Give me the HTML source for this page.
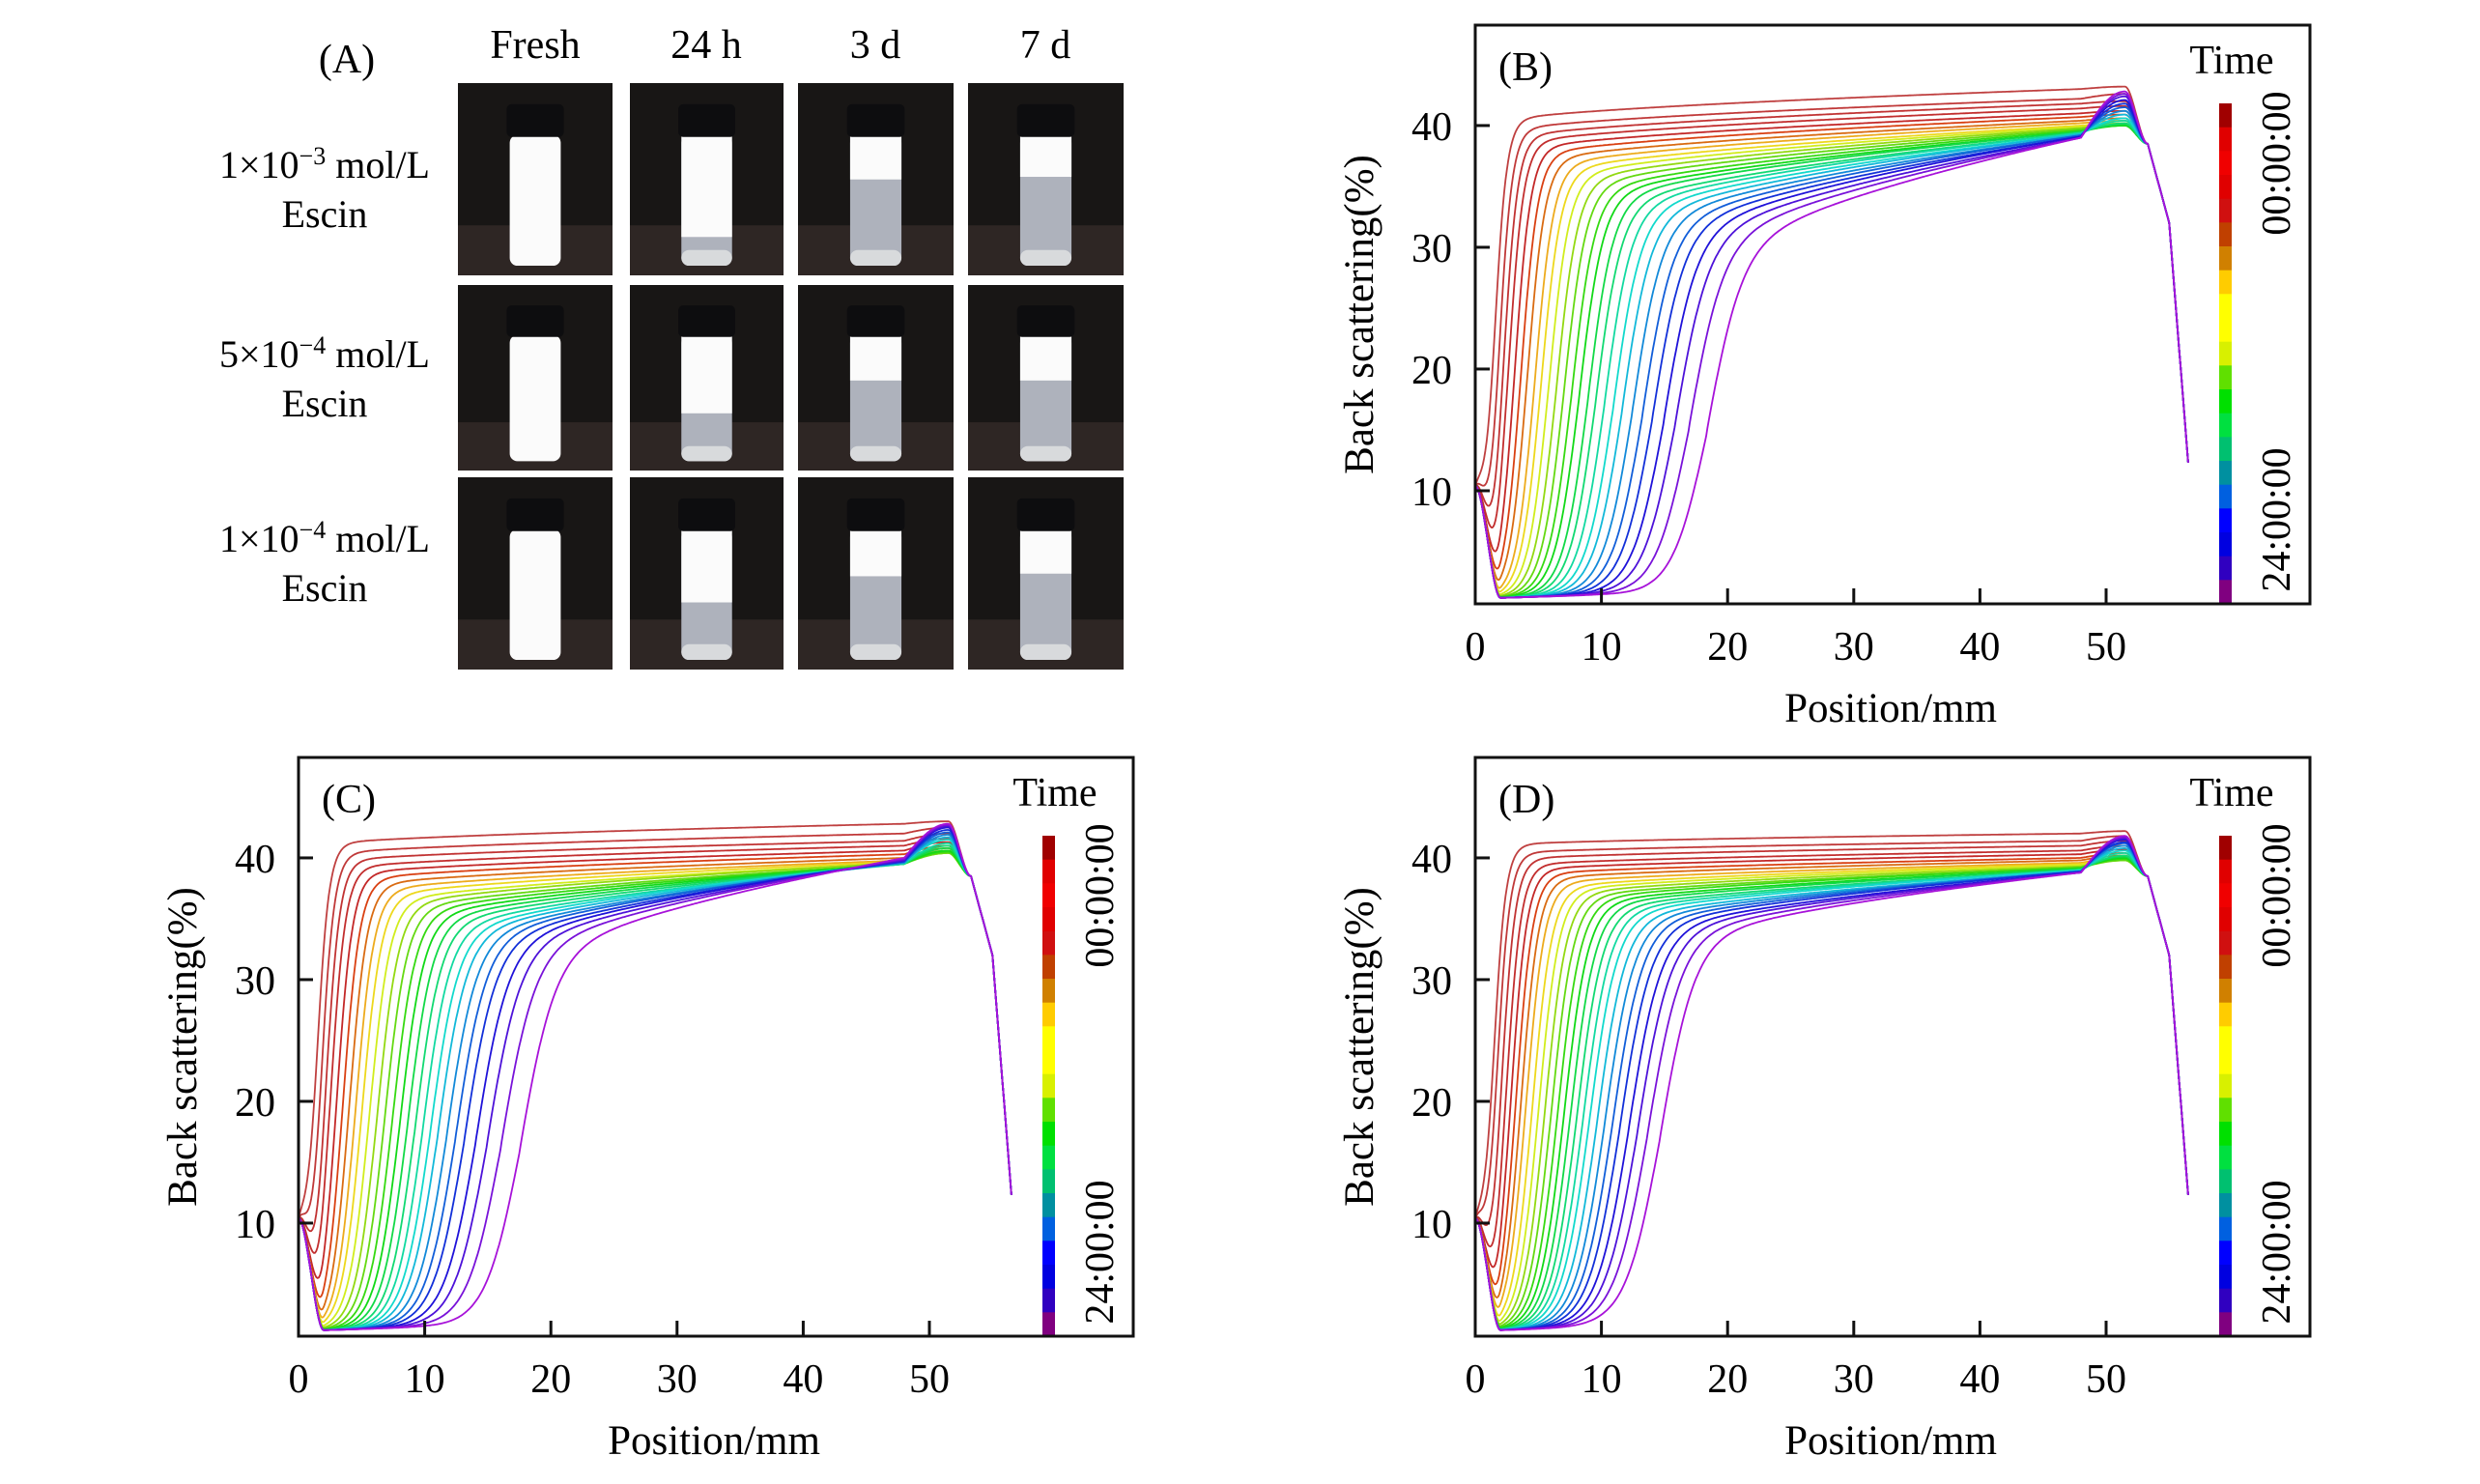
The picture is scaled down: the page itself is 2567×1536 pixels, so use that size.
<!DOCTYPE html>
<html><head><meta charset="utf-8"><style>
html,body{margin:0;padding:0;background:#fff;}
svg{display:block;font-family:"Liberation Serif",serif;}
</style></head><body>
<svg id="fig" width="2567" height="1536" viewBox="0 0 2567 1536" xmlns="http://www.w3.org/2000/svg">
<g id="photos">
<text x="359" y="75" font-size="42" text-anchor="middle">(A)</text>
<text x="554" y="60" font-size="42" text-anchor="middle">Fresh</text>
<text x="731" y="60" font-size="42" text-anchor="middle">24 h</text>
<text x="906" y="60" font-size="42" text-anchor="middle">3 d</text>
<text x="1082" y="60" font-size="42" text-anchor="middle">7 d</text>
<text x="336" y="184" font-size="40" text-anchor="middle">1×10<tspan dy="-14" font-size="26">−3</tspan><tspan dy="14"> mol/L</tspan></text>
<text x="336" y="235" font-size="40" text-anchor="middle">Escin</text>
<text x="336" y="380" font-size="40" text-anchor="middle">5×10<tspan dy="-14" font-size="26">−4</tspan><tspan dy="14"> mol/L</tspan></text>
<text x="336" y="431" font-size="40" text-anchor="middle">Escin</text>
<text x="336" y="571" font-size="40" text-anchor="middle">1×10<tspan dy="-14" font-size="26">−4</tspan><tspan dy="14"> mol/L</tspan></text>
<text x="336" y="622" font-size="40" text-anchor="middle">Escin</text>
</g>
<g id="charts"></g>
</svg>
<script>
// ---- chart data (per panel, 26 time curves, ordered 00:00:00 -> 24:00:00) ----
const panelNames = ["B", "C", "D"];
const xTicks = [0, 10, 20, 30, 40, 50];
const yTicks = [10, 20, 30, 40];
const fronts_B = [1.4,1.8,2.2,2.6,3.1,3.6,4.1,4.7,5.2,5.8,6.4,7.0,7.6,8.2,8.9,9.5,10.2,10.9,11.6,12.4,13.2,14.0,14.9,15.8,16.9,18.3];
const knees_B  = [40.2,39.4,38.8,38.3,37.8,37.3,36.8,36.3,35.8,35.3,34.8,34.3,33.8,33.4,33.0,32.5,32.1,31.7,31.2,30.8,30.3,29.9,29.4,28.9,28.3,27.5];
const ends_B   = [43.0,42.2,41.8,41.4,41.0,40.7,40.4,40.2,40.0,39.9,39.8,39.7,39.6,39.5,39.5,39.4,39.4,39.3,39.3,39.2,39.2,39.1,39.1,39.0,39.0,39.0];
const peaks_B  = [43.2,42.6,42.0,41.6,41.2,40.9,40.6,40.4,40.2,40.1,40.0,40.0,40.0,40.0,40.1,40.2,40.4,40.6,40.9,41.2,41.5,41.8,42.1,42.4,42.6,42.8];
const fronts_C = [1.3,1.7,2.1,2.5,3.0,3.5,4.0,4.5,5.0,5.6,6.2,6.8,7.4,8.0,8.6,9.2,9.8,10.4,11.0,11.7,12.4,13.1,14.0,14.9,16.0,17.5];
const knees_C  = [41.0,40.2,39.6,39.0,38.5,38.0,37.5,37.0,36.5,36.0,35.6,35.2,34.8,34.4,34.0,33.6,33.2,32.8,32.5,32.2,31.9,31.6,31.3,31.0,30.6,30.0];
const ends_C   = [42.8,42.0,41.4,41.0,40.6,40.3,40.0,39.8,39.7,39.6,39.6,39.5,39.5,39.5,39.5,39.5,39.5,39.6,39.6,39.6,39.7,39.7,39.8,39.8,39.9,40.0];
const peaks_C  = [43.0,42.5,42.0,41.6,41.3,41.0,40.8,40.6,40.5,40.4,40.4,40.4,40.5,40.6,40.8,41.0,41.2,41.5,41.7,41.9,42.1,42.3,42.5,42.6,42.7,42.8];
const fronts_D = [1.3,1.6,2.0,2.4,2.8,3.2,3.6,4.0,4.5,5.0,5.5,6.0,6.5,7.0,7.5,8.0,8.5,9.0,9.6,10.2,10.8,11.4,12.1,12.8,13.6,14.6];
const knees_D  = [41.0,40.3,39.8,39.3,38.9,38.5,38.1,37.7,37.3,37.0,36.7,36.4,36.1,35.8,35.5,35.2,34.9,34.6,34.3,34.0,33.7,33.4,33.1,32.8,32.4,32.0];
const ends_D   = [42.0,41.4,41.0,40.6,40.3,40.0,39.8,39.6,39.5,39.4,39.3,39.2,39.2,39.1,39.1,39.0,39.0,39.0,38.9,38.9,38.9,38.9,38.8,38.8,38.8,38.8];
const peaks_D  = [42.2,41.8,41.4,41.0,40.7,40.4,40.2,40.0,39.9,39.8,39.8,39.8,39.9,40.0,40.1,40.2,40.4,40.6,40.8,41.0,41.2,41.3,41.5,41.6,41.7,41.8];
const colorbarColors = ["#a00000","#e00000","#f00000","#e00000","#d01010","#c04000","#d08000","#ffcc00","#ffff00","#ffff00","#d8f000","#60e000","#00e000","#00e040","#00c070","#0090a0","#0060e0","#0000ff","#0000e0","#3000c0","#800080"];
const timeLabels = ["00:00:00", "24:00:00"];

const NS = "http://www.w3.org/2000/svg";
function mk(tag, attrs, parent){ const e=document.createElementNS(NS,tag); for(const k in attrs) e.setAttribute(k,attrs[k]); if(parent) parent.appendChild(e); return e; }

const panelData = {
  B:{f:fronts_B,k:knees_B,e:ends_B,p:peaks_B,left:1527,top:26},
  C:{f:fronts_C,k:knees_C,e:ends_C,p:peaks_C,left:309,top:784},
  D:{f:fronts_D,k:knees_D,e:ends_D,p:peaks_D,left:1527,top:784}
};
const W=864, H=599, XMIN=0, PXMM=13.06, YMAX=48.25, PXU=12.6;

function smooth(t){ t=Math.max(0,Math.min(1,t)); return t*t*(3-2*t); }
function curveY(d,i,x){
  const f=d.f[i],K=d.k[i],E=d.e[i],P=d.p[i];
  const base = x<2 ? 10.4-9.2*smooth(x/2) : 1.2+0.03*Math.min(x-2,8);
  const w = 0.5+0.035*i;
  const s0 = 1/(1+Math.exp(f/w));
  const sr = 1/(1+Math.exp(-(x-f)/w));
  const s = Math.max(0,(sr-s0)/(1-s0));
  let plat;
  if(x<=48){ plat = x<=f ? K : K+(E-K)*Math.pow(Math.min(1,(x-f)/(48-f)),0.6); }
  else if(x<=51.5){ plat = E+(P-E)*Math.sin((x-48)/3.5*Math.PI/2); }
  else if(x<=53.3){ plat = P-(P-38.5)*smooth((x-51.5)/1.8); }
  else if(x<=55){ plat = 38.5-(38.5-32)*(x-53.3)/1.7; }
  else { plat = 32-21*(x-55)/1.6; }
  if(x>48) return plat;
  return base+(plat-base)*s;
}
function curveColor(i){
  if(i<5) return "hsl(0,"+(50+i*4)+"%,"+(50-i)+"%)";
  const h=(i-4)*285/21;
  const l = (h>40&&h<80)?52:46;
  return "hsl("+h.toFixed(0)+",85%,"+l+"%)";
}

const root=document.getElementById("charts");
panelNames.forEach(function(name){
  const d=panelData[name];
  const L=d.left, T=d.top;
  const sx=function(v){return L+(v-XMIN)*PXMM;};
  const sy=function(v){return T+(YMAX-v)*PXU;};
  const g=mk("g",{},root);
  
  
  const clipId="clip"+name;
  const cp=mk("clipPath",{id:clipId},g);
  mk("rect",{x:L,y:T,width:W,height:H},cp);
  const lines=mk("g",{"clip-path":"url(#"+clipId+")"},g);
  
  
  for(let i=0;i<d.f.length;i++){
    let pts=[];
    for(let x=0;x<=56.6;x+=0.1){ pts.push(sx(x).toFixed(1)+","+sy(curveY(d,i,x)).toFixed(1)); }
    const pl=mk("polyline",{points:pts.join(" "),fill:"none",stroke:curveColor(i),"stroke-width":"1.8","stroke-linejoin":"round"},lines);
    
    
  }
  // colorbar
  const cbX=L+770, cbTop=T+81, cbH=H-81, segH=cbH/colorbarColors.length;
  const cb=mk("g",{},g);
  
  
  colorbarColors.forEach(function(c,j){
    const r=mk("rect",{x:cbX,y:(cbTop+j*segH).toFixed(1),width:13,height:(segH+0.6).toFixed(1),fill:c},cb);
    
    
  });
  const tt=mk("text",{x:L+783,y:T+50,"font-size":"42","text-anchor":"middle"},g);
  tt.textContent="Time";
  
  
  [[timeLabels[0],T+143],[timeLabels[1],T+512]].forEach(function(a,j){
    const t=mk("text",{x:0,y:0,"font-size":"42","text-anchor":"middle",transform:"translate("+(L+843)+","+a[1]+") rotate(-90)"},g);
    t.textContent=a[0];
    
    
  });
  // frame
  const fr=mk("rect",{x:L,y:T,width:W,height:H,fill:"none",stroke:"#111","stroke-width":"3"},g);
  
  
  // ticks
  xTicks.forEach(function(v){
    const x=sx(v);
    if(v>0){ const tk=mk("line",{x1:x,y1:T+H,x2:x,y2:T+H-16,stroke:"#111","stroke-width":"3"},g);
      
       }
    const t=mk("text",{x:x,y:T+H+58,"font-size":"42","text-anchor":"middle"},g);
    t.textContent=String(v);
    
    
  });
  yTicks.forEach(function(v){
    const y=sy(v);
    const tk=mk("line",{x1:L,y1:y,x2:L+15,y2:y,stroke:"#111","stroke-width":"3"},g);
    
    
    const t=mk("text",{x:L-24,y:y+15,"font-size":"42","text-anchor":"end"},g);
    t.textContent=String(v);
    
    
  });
  const xt=mk("text",{x:L+430,y:T+H+122,"font-size":"43","text-anchor":"middle"},g);
  xt.textContent="Position/mm";
  
  
  const yt=mk("text",{x:0,y:0,"font-size":"43","text-anchor":"middle",transform:"translate("+(L-106)+","+(T+H/2)+") rotate(-90)"},g);
  yt.textContent="Back scattering(%)";
  
  
  const pl=mk("text",{x:L+24,y:T+57,"font-size":"42"},g);
  pl.textContent="("+name+")";
  
  
});

// ---- photo grid (vials) ----
const colX=[474,652,826,1002], colW=[160,159,161,161];
const rowY=[86,295,494], rowH=[199,192,199];
const turbidStart=[[1,1,1],[0.78,0.62,0.56],[0.34,0.36,0.36],[0.32,0.36,0.34]];
const photos=document.getElementById("photos");
for(let c=0;c<4;c++){ for(let r=0;r<3;r++){
  const x=colX[c], y=rowY[r], w=colW[c], h=rowH[r];
  const cell=mk("g",{},photos);
  
  
  mk("rect",{x:x,y:y,width:w,height:h,fill:"#181615"},cell);
  mk("rect",{x:x,y:y+h*0.74,width:w,height:h*0.26,fill:"#2e2624"},cell);
  const cx=x+w/2, bw=w*0.33, capW=w*0.37;
  const bodyTop=y+h*0.27, bodyBot=y+h*0.95;
  const bh=bodyBot-bodyTop;
  const wf=turbidStart[c][r];
  mk("rect",{x:cx-bw/2,y:bodyTop,width:bw,height:bh,rx:8,fill:(wf>=1?"#fbfbfb":"#aeb2bc")},cell);
  if(wf<1){
    mk("rect",{x:cx-bw/2,y:bodyTop,width:bw,height:bh*wf,fill:"#fbfbfb"},cell);
    mk("rect",{x:cx-bw/2,y:bodyBot-bh*0.12,width:bw,height:bh*0.12,rx:8,fill:"#d8dadc"},cell);
  }
  mk("rect",{x:cx-capW/2,y:y+h*0.11,width:capW,height:h*0.17,rx:5,fill:"#0d0d0f"},cell);
}}
</script>
</body></html>
